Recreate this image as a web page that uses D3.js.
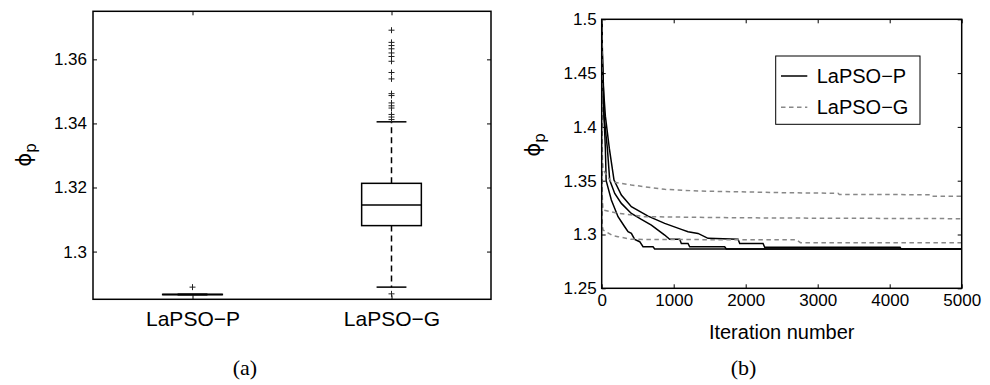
<!DOCTYPE html>
<html>
<head>
<meta charset="utf-8">
<script src="https://cdn.jsdelivr.net/npm/d3@7"></script>
<style>
  html, body { margin: 0; padding: 0; background: #fff; }
  svg { display: block; }
</style>
</head>
<body>
<svg id="chart" width="990" height="385" font-family="Liberation Sans, Arial, Helvetica, sans-serif"></svg>
<script>
// ---------------- DATA ----------------
// (a) Box plot
const categories = ["LaPSO\u2212P", "LaPSO\u2212G"];
const boxQ1 = [1.28655, 1.3081];
const boxMedian = [1.2866, 1.3145];
const boxQ3 = [1.28665, 1.3213];
const whiskerLow = [1.2865, 1.2889];
const whiskerHigh = [1.2867, 1.3405];
const outliersP = [1.2889];
const outliersG = [1.2868, 1.3412, 1.3420, 1.3428, 1.3448, 1.3455, 1.3464, 1.3487, 1.3493,
                   1.3539, 1.3559, 1.3594, 1.3609, 1.3620, 1.3633, 1.3643, 1.3653, 1.3691];
const yTicksA = [1.3, 1.32, 1.34, 1.36];

// (b) Convergence curves: [iteration, phi_p]
const seriesNames = ["LaPSO\u2212P", "LaPSO\u2212G"];
const runP1 = [[0,1.5],[10,1.46],[23,1.4405],[32,1.41],[51,1.38],[62,1.35],[134,1.332],[227,1.3165],
  [319,1.3072],[366,1.3026],[412,1.301],[458,1.2955],[528,1.2933],[574,1.2886],[713,1.2886],
  [736,1.2865],[5000,1.2865]];
const runP2 = [[0,1.5],[15,1.44],[32,1.41],[79,1.38],[111,1.3506],[181,1.3382],[273,1.3289],
  [412,1.3196],[551,1.314],[690,1.3088],[875,1.2995],[944,1.2955],[1083,1.2955],[1106,1.2917],
  [1199,1.2917],[1222,1.2886],[1708,1.2886],[1731,1.2865],[5000,1.2865]];
const runP3 = [[0,1.5],[20,1.44],[51,1.41],[106,1.38],[171,1.3506],[273,1.3367],[412,1.3258],
  [644,1.3171],[875,1.3103],[1106,1.3048],[1199,1.3026],[1338,1.301],[1477,1.2964],[1894,1.2955],
  [1917,1.2917],[2241,1.2917],[2264,1.2882],[4144,1.2882],[4160,1.2865],[5000,1.2865]];
const runG1 = [[0,1.5],[5,1.40],[10,1.37],[20,1.36],[133,1.349],[411,1.346],[875,1.342],
  [1338,1.3404],[2588,1.3388],[3282,1.3383],[3300,1.3372],[4560,1.3370],[4580,1.3356],[5000,1.3355]];
const runG2 = [[0,1.5],[3,1.38],[8,1.335],[18,1.3228],[226,1.3197],[600,1.3166],[1500,1.3158],
  [2500,1.3153],[5000,1.3147]];
const runG3 = [[0,1.5],[3,1.35],[8,1.31],[18,1.3042],[150,1.299],[226,1.298],[412,1.2955],
  [1500,1.2952],[2700,1.2952],[2760,1.2924],[5000,1.2924]];
const xTicksB = [0, 1000, 2000, 3000, 4000, 5000];
const yTicksB = [1.25, 1.3, 1.35, 1.4, 1.45, 1.5];

// ---------------- DRAW ----------------
const svg = d3.select("#chart");
const sansFont = "'Liberation Sans', Arial, Helvetica, sans-serif";
const serifFont = "'Liberation Serif', 'DejaVu Serif', serif";
const phiFont = "'DejaVu Sans', 'Liberation Sans', sans-serif";
const tickFont = 17;
const labelFont = 20;
const catFont = 21;

function frame(g, x0, y0, x1, y1) {
  g.append("rect").attr("x", x0).attr("y", y0).attr("width", x1 - x0).attr("height", y1 - y0)
    .attr("fill", "none").attr("stroke", "#000").attr("stroke-width", 1.5);
}
function styleAxis(sel) {
  sel.attr("font-family", null).attr("font-size", null);
  sel.select(".domain").remove();
  sel.selectAll(".tick line").attr("stroke", "#000").attr("stroke-width", 1);
  sel.selectAll(".tick text").style("font-size", tickFont + "px").style("font-family", sansFont).attr("fill", "#000");
}

// ===== Panel (a) =====
const A = {l: 93, r: 491, t: 11.3, b: 299.3};
const xA = d3.scaleLinear().domain([0.5, 2.5]).range([A.l, A.r]);
const yA = d3.scaleLinear().domain([1.2851, 1.375]).range([A.b, A.t]);
const gA = svg.append("g");

gA.append("g").attr("transform", `translate(${A.l},0)`)
  .call(d3.axisLeft(yA).tickValues(yTicksA).tickFormat(d => String(d)).tickSizeInner(-4).tickSizeOuter(0).tickPadding(6))
  .call(styleAxis);
gA.append("g").attr("transform", `translate(${A.r},0)`)
  .call(d3.axisRight(yA).tickValues(yTicksA).tickFormat("").tickSizeInner(-4).tickSizeOuter(0))
  .call(styleAxis);
gA.append("g").attr("transform", `translate(0,${A.b})`)
  .call(d3.axisBottom(xA).tickValues([1, 2]).tickFormat((d, i) => categories[i]).tickSizeInner(-4).tickSizeOuter(0).tickPadding(12))
  .call(styleAxis)
  .call(s => s.selectAll(".tick text").style("font-size", catFont + "px"));
gA.append("g").attr("transform", `translate(0,${A.t})`)
  .call(d3.axisTop(xA).tickValues([1, 2]).tickFormat("").tickSizeInner(-4).tickSizeOuter(0))
  .call(styleAxis);

const boxHalf = 0.15, capHalf = 0.075;
categories.forEach((c, i) => {
  const cx = i + 1;
  const g = gA.append("g");
  g.append("line").attr("x1", xA(cx)).attr("x2", xA(cx)).attr("y1", yA(boxQ3[i])).attr("y2", yA(whiskerHigh[i]))
    .attr("stroke", "#000").attr("stroke-width", 1.5).attr("stroke-dasharray", "6,4");
  g.append("line").attr("x1", xA(cx)).attr("x2", xA(cx)).attr("y1", yA(boxQ1[i])).attr("y2", yA(whiskerLow[i]))
    .attr("stroke", "#000").attr("stroke-width", 1.5).attr("stroke-dasharray", "6,4");
  [whiskerLow[i], whiskerHigh[i]].forEach(v => {
    g.append("line").attr("x1", xA(cx - capHalf)).attr("x2", xA(cx + capHalf)).attr("y1", yA(v)).attr("y2", yA(v))
      .attr("stroke", "#000").attr("stroke-width", 1.5);
  });
  g.append("rect").attr("x", xA(cx - boxHalf)).attr("y", yA(boxQ3[i]))
    .attr("width", xA(cx + boxHalf) - xA(cx - boxHalf)).attr("height", Math.max(0.01, yA(boxQ1[i]) - yA(boxQ3[i])))
    .attr("fill", "#fff").attr("stroke", "#000").attr("stroke-width", 1.5);
  g.append("line").attr("x1", xA(cx - boxHalf)).attr("x2", xA(cx + boxHalf)).attr("y1", yA(boxMedian[i])).attr("y2", yA(boxMedian[i]))
    .attr("stroke", "#000").attr("stroke-width", 1.5);
  const outs = i === 0 ? outliersP : outliersG;
  g.selectAll("path.out").data(outs).join("path").attr("class", "out")
    .attr("transform", v => `translate(${xA(cx)},${yA(v)})`)
    .attr("d", "M-3,0H3M0,-3V3").attr("stroke", "#222").attr("stroke-width", 1).attr("fill", "none");
});
frame(gA, A.l, A.t, A.r, A.b);

function phiLabel(x, y) {
  const t = svg.append("text").attr("transform", `translate(${x},${y}) rotate(-90)`)
    .attr("text-anchor", "middle").style("font-family", phiFont);
  t.append("tspan").style("font-size", "21px").text("\u03D5");
  t.append("tspan").style("font-size", "15px").attr("dy", 5).text("p");
}
phiLabel(31, 155);

svg.append("text").attr("x", 245).attr("y", 375).attr("text-anchor", "middle")
  .style("font-family", serifFont).style("font-size", "22px").text("(a)");

// ===== Panel (b) =====
const B = {l: 601.7, r: 961.7, t: 19.3, b: 288.3};
const xB = d3.scaleLinear().domain([0, 5000]).range([B.l, B.r]);
const yB = d3.scaleLinear().domain([1.25, 1.5]).range([B.b, B.t]);
const gB = svg.append("g");

gB.append("g").attr("transform", `translate(${B.l},0)`)
  .call(d3.axisLeft(yB).tickValues(yTicksB).tickFormat(d => String(d)).tickSizeInner(-4).tickSizeOuter(0).tickPadding(5))
  .call(styleAxis);
gB.append("g").attr("transform", `translate(${B.r},0)`)
  .call(d3.axisRight(yB).tickValues(yTicksB).tickFormat("").tickSizeInner(-4).tickSizeOuter(0))
  .call(styleAxis);
gB.append("g").attr("transform", `translate(0,${B.b})`)
  .call(d3.axisBottom(xB).tickValues(xTicksB).tickFormat(d => String(d)).tickSizeInner(-4).tickSizeOuter(0).tickPadding(6))
  .call(styleAxis);
gB.append("g").attr("transform", `translate(0,${B.t})`)
  .call(d3.axisTop(xB).tickValues(xTicksB).tickFormat("").tickSizeInner(-4).tickSizeOuter(0))
  .call(styleAxis);

svg.append("clipPath").attr("id", "clipB").append("rect")
  .attr("x", B.l).attr("y", B.t).attr("width", B.r - B.l).attr("height", B.b - B.t);

const line = d3.line().x(d => xB(d[0])).y(d => yB(d[1]));
const plotB = gB.append("g").attr("clip-path", "url(#clipB)");
[runP1, runP2, runP3].forEach(r => {
  plotB.append("path").attr("d", line(r)).attr("fill", "none").attr("stroke", "#000").attr("stroke-width", 1.5);
});
[runG1, runG2, runG3].forEach(r => {
  plotB.append("path").attr("d", line(r)).attr("fill", "none").attr("stroke", "#888")
    .attr("stroke-width", 1.5).attr("stroke-dasharray", "4.5,3.5");
});
frame(gB, B.l, B.t, B.r, B.b);

const lg = gB.append("g");
lg.append("rect").attr("x", 775.7).attr("y", 56).attr("width", 144.3).attr("height", 68.3)
  .attr("fill", "#fff").attr("stroke", "#000").attr("stroke-width", 1);
seriesNames.forEach((n, i) => {
  const y = 76 + i * 31.3;
  lg.append("line").attr("x1", 781).attr("x2", 807.3).attr("y1", y).attr("y2", y)
    .attr("stroke", i === 0 ? "#000" : "#888").attr("stroke-width", 1.5)
    .attr("stroke-dasharray", i === 0 ? null : "4.5,3.5");
  lg.append("text").attr("x", 816.7).attr("y", y).attr("dy", "0.35em")
    .style("font-family", sansFont).style("font-size", labelFont + "px").text(n);
});

svg.append("text").attr("x", 781.7).attr("y", 339.3).attr("text-anchor", "middle")
  .style("font-family", sansFont).style("font-size", labelFont + "px").text("Iteration number");
phiLabel(540, 145);
svg.append("text").attr("x", 743.5).attr("y", 375).attr("text-anchor", "middle")
  .style("font-family", serifFont).style("font-size", "22px").text("(b)");
</script>
</body>
</html>
